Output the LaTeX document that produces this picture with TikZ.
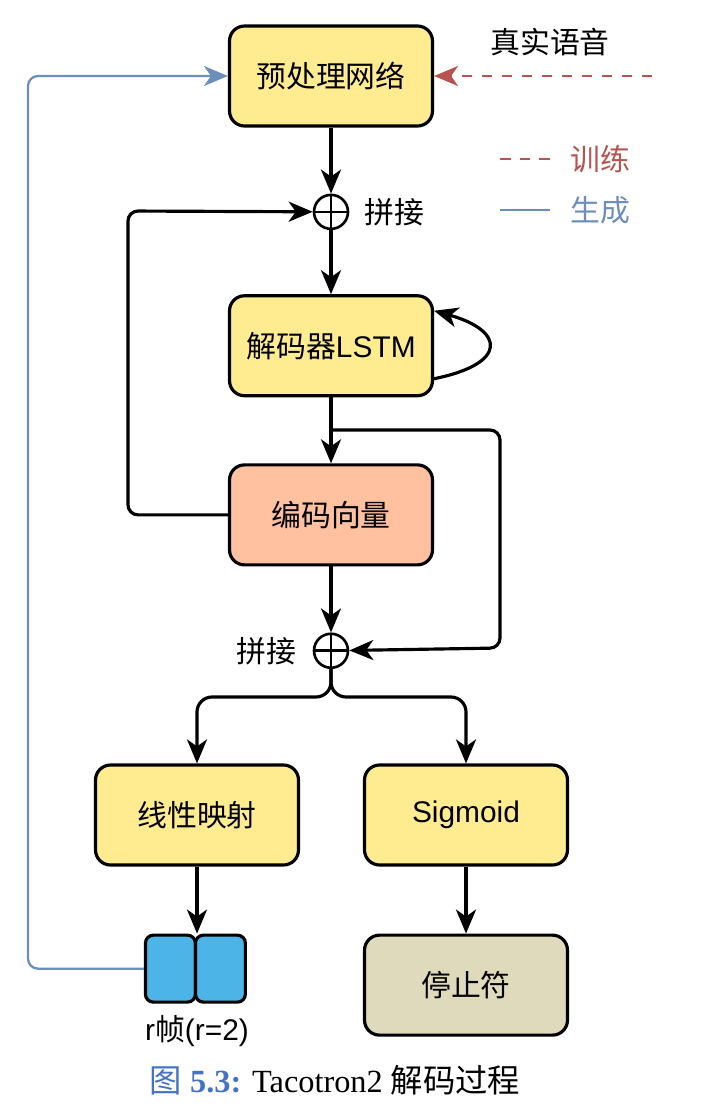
\documentclass[tikz,border=0pt]{standalone}
\usepackage{fontspec}
\setmainfont{Liberation Sans}
\newfontfamily\cjk{Noto Sans CJK SC}
\newfontfamily\capfont{Liberation Serif}
\usetikzlibrary{positioning,arrows.meta}
\definecolor{boxyellow}{RGB}{255,236,145}
\definecolor{boxsalmon}{RGB}{255,193,160}
\definecolor{boxblue}{RGB}{76,180,230}
\definecolor{boxbeige}{RGB}{224,218,188}
\definecolor{trainred}{RGB}{184,84,80}
\definecolor{genblue}{RGB}{108,142,191}
\definecolor{capblue}{RGB}{68,114,196}

\begin{document}
\begin{tikzpicture}[
  x=0.02cm, y=0.02cm,
  font=\fontsize{17}{20}\selectfont,
  block/.style={draw,line width=1.8pt,rounded corners=0.3cm,minimum width=4.06cm,minimum height=2cm,align=center},
  plusnode/.style={draw,circle,line width=1.5pt,minimum size=0.68cm,inner sep=0pt,
    path picture={\draw[line width=1.5pt] (path picture bounding box.north) -- (path picture bounding box.south)
      (path picture bounding box.west) -- (path picture bounding box.east);}},
  framebox/.style={draw,line width=1.8pt,rounded corners=0.16cm,fill=boxblue,minimum width=1.0cm,minimum height=1.34cm},
  arr/.style={line width=1.8pt,-{Stealth[length=0.48cm,width=0.4cm,inset=0.14cm]}}
]
\useasboundingbox (0,0) rectangle (727,-1116);

\node[block,fill=boxyellow] (pre) at (331,-76) {\cjk 预处理网络};
\node[plusnode,below=1.32cm of pre] (plusA) {};
\node[right=0.18cm of plusA] (catA) {\cjk 拼接};
\node[block,fill=boxyellow,below=1.28cm of plusA] (lstm) {{\cjk 解码器}LSTM};
\node[block,fill=boxsalmon,below=1.32cm of lstm] (enc) {\cjk 编码向量};
\node[plusnode,below=1.32cm of enc] (plusB) {};
\node[left=0.2cm of plusB] (catB) {\cjk 拼接};
\node[block,fill=boxyellow] (lin) at (197,-815) {\cjk 线性映射};
\node[block,fill=boxyellow] (sig) at (466,-815) {Sigmoid};
\node[framebox,below left=1.34cm and 0cm of lin.south] (frmA) {};
\node[framebox,right=-1.8pt of frmA] (frmB) {};
\node[below=0.12cm of frmA.south east] (rlab) {r{\cjk 帧}(r=2)};
\node[block,fill=boxbeige,below=1.34cm of sig] (stop) {\cjk 停止符};

% legend and input
\node (real) at (550,-42) {\cjk 真实语音};
\coordinate (spch) at (652,-76);
\coordinate (lgA) at (500,-159);
\coordinate (lgB) at (500,-210);
\node[trainred] (trn) at (600,-159) {\cjk 训练};
\node[genblue] (gen) at (600,-210) {\cjk 生成};
\draw[trainred,line width=1.6pt,dash pattern=on 0.22cm off 0.17cm] (lgA) -- ++(50,0);
\draw[genblue,line width=1.6pt] (lgB) -- ++(50,0);

% helper points
\coordinate (lftA) at (128,-211);
\coordinate (brA) at (331,-430);
\coordinate (rgtB) at (500,-648);
\coordinate (splt) at (331,-697);
\coordinate (lftG) at (28,-76);

\draw[arr,trainred,line width=1.6pt,dash pattern=on 0.2cm off 0.2cm] (spch) -- (pre);
\draw[arr] (pre) -- (plusA);
\draw[arr] (plusA) -- (lstm);
\draw[arr] ([yshift=-0.66cm]lstm.east) .. controls +(74,15) and +(71,-20) .. ([yshift=0.7cm]lstm.east);
\draw[arr] (lstm) -- (enc);
\draw[arr,rounded corners=0.2cm] (enc.west) -| (lftA) -- (plusA);
\draw[arr,rounded corners=0.2cm] (brA) -| (rgtB) -- (plusB);
\draw[arr] (enc) -- (plusB);
\draw[arr,rounded corners=0.3cm] (plusB) -- (splt) -| (lin);
\draw[arr,rounded corners=0.3cm] (plusB) -- (splt) -| (sig);
\draw[arr] (lin) -- (frmA.north east);
\draw[arr] (sig) -- (stop);
\draw[arr,genblue,line width=1.3pt,rounded corners=0.2cm] (frmA.west) -| (lftG) -- (pre);

\node (cap) at (335,-1080) {\capfont\fontsize{18.4}{22}\selectfont
  {\color{capblue}{\cjk 图} \textbf{5.3:}} Tacotron2 {\cjk 解码过程}};
\end{tikzpicture}
\end{document}
